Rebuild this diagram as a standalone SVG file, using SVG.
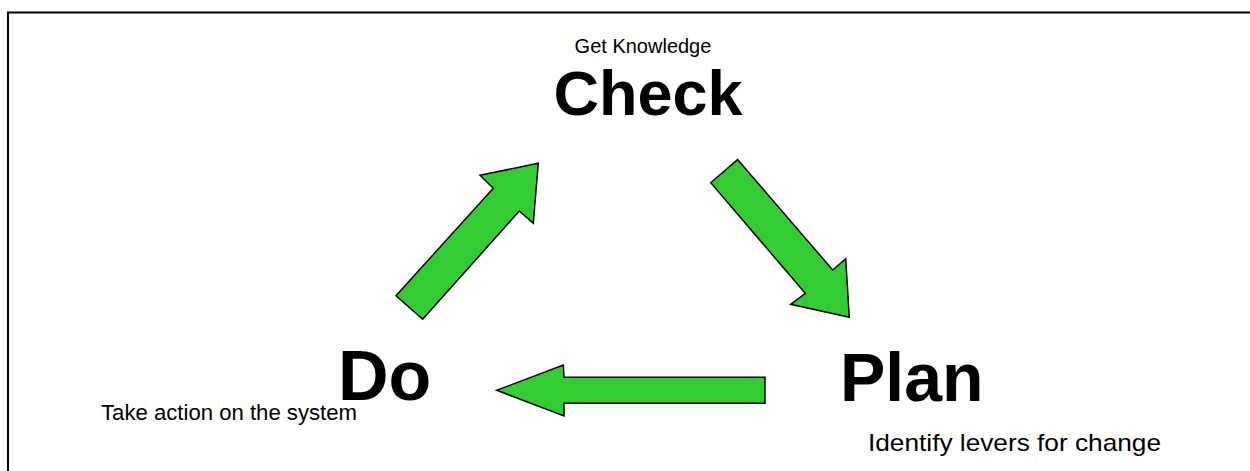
<svg xmlns="http://www.w3.org/2000/svg" width="1250" height="471" viewBox="0 0 1250 471">
<style>
.arrow{fill:#33CC33;stroke:#000;stroke-width:1.5;stroke-linejoin:miter}
.big{font-family:"Liberation Sans",Arial,sans-serif;font-weight:bold;fill:#000}
.small{font-family:"Liberation Sans",Arial,sans-serif;fill:#000}
.frame{fill:none;stroke:#000;stroke-width:2}
</style>
<rect width="1250" height="471" fill="#fff"/>
<path class="frame" d="M8,471 L8,12.5 L1250,12.5"/>
<g id="check">
<text class="small" x="643" y="53" font-size="20" text-anchor="middle">Get Knowledge</text>
<text class="big" x="648" y="115" font-size="63" text-anchor="middle">Check</text>
</g>
<g id="plan">
<text class="big" x="840" y="401" font-size="68">Plan</text>
<text class="small" x="868" y="451" font-size="24" textLength="293" lengthAdjust="spacingAndGlyphs">Identify levers for change</text>
</g>
<g id="do">
<text class="big" x="338" y="400" font-size="70">Do</text>
<text class="small" x="101" y="420" font-size="22" textLength="256" lengthAdjust="spacingAndGlyphs">Take action on the system</text>
</g>
<g id="connectors">
<polygon class="arrow" points="396,295.7 422.7,319.3 519.3,211 533.3,223.3 538.3,163.3 480,175.3 493.3,188.3"/>
<polygon class="arrow" points="710.7,182.7 737.6,159.6 832.7,270 845.7,258.7 849.3,317.3 790.7,304.3 805.3,293.3"/>
<polygon class="arrow" points="496.7,390.3 563.3,365 564,377.3 765,377.3 765,403.3 564,403.3 564,416"/>
</g>
</svg>
